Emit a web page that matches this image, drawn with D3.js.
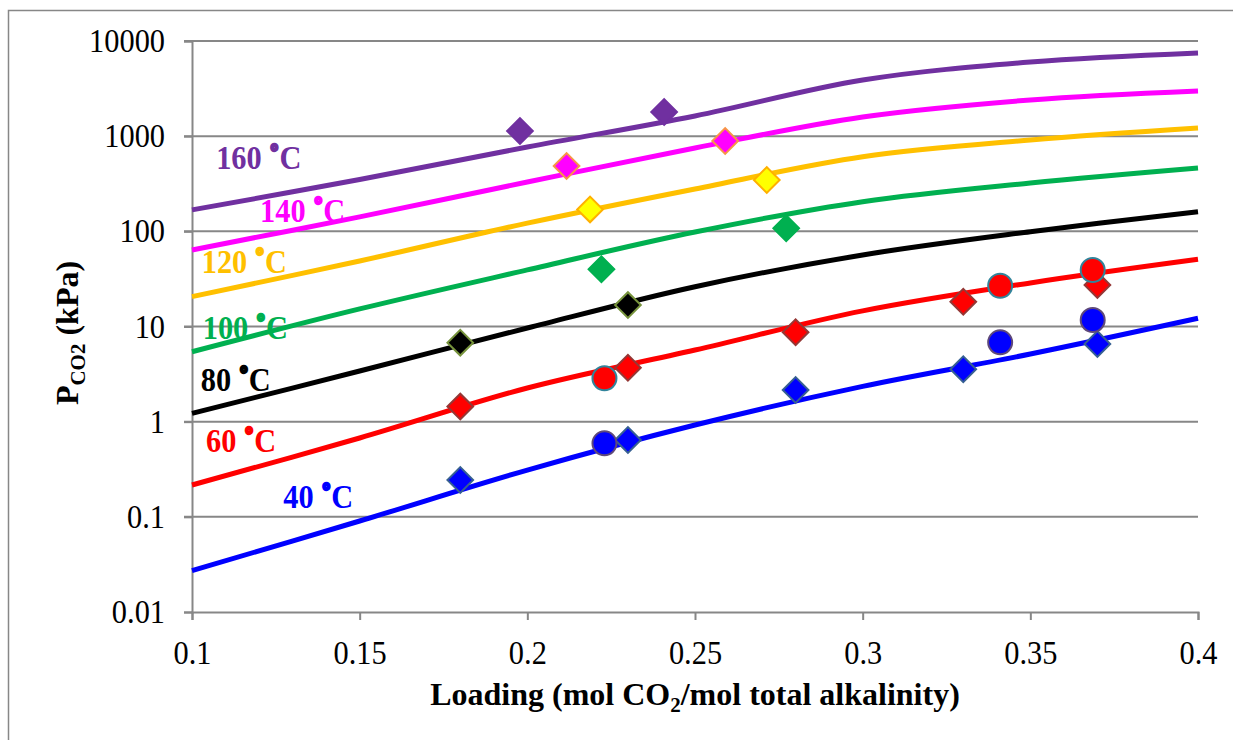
<!DOCTYPE html>
<html>
<head>
<meta charset="utf-8">
<script src="https://cdn.jsdelivr.net/npm/d3@7"></script>
<style>
  html, body { margin: 0; padding: 0; background: #fff; }
  svg { display: block; font-family: "Liberation Serif", "Times New Roman", serif; }
  svg text { font-family: "Liberation Serif", "Times New Roman", serif; }
</style>
</head>
<body>
<svg id="chart" width="1233" height="740"></svg>
<script>
// ---------- data ----------
const loadingGrid = [0.10, 0.15, 0.20, 0.25, 0.30, 0.35, 0.40];
const model40  = [0.0272, 0.0904, 0.31, 0.923, 2.35, 5.14, 12.2];
const model60  = [0.216, 0.674, 2.26, 5.66, 14.6, 28.7, 50.8];
const model80  = [1.22, 3.41, 9.64, 26.2, 56.4, 99, 161];
const model100 = [5.43, 15.3, 39.3, 98.4, 205, 322, 463];
const model120 = [20.6, 48.8, 122, 279, 608, 912, 1218];
const model140 = [63.7, 142, 330, 751, 1590, 2400, 2985];
const model160 = [168, 350, 769, 1630, 3890, 6010, 7480];

const temperatures = ["40 ˚C", "60 ˚C", "80 ˚C", "100 ˚C", "120 ˚C", "140 ˚C", "160 ˚C"];

const exp40DiamondX = [0.18, 0.23, 0.28, 0.33, 0.37];
const exp40DiamondY = [0.244, 0.641, 2.15, 3.55, 6.55];
const exp40CircleX  = [0.223, 0.341, 0.3686];
const exp40CircleY  = [0.592, 6.82, 11.7];
const exp60DiamondX = [0.18, 0.23, 0.28, 0.33, 0.37];
const exp60DiamondY = [1.44, 3.69, 8.69, 18.2, 27.3];
const exp60CircleX  = [0.223, 0.341, 0.3686];
const exp60CircleY  = [2.86, 26.8, 39.2];
const exp80X  = [0.18, 0.23];
const exp80Y  = [6.76, 16.8];
const exp100X = [0.2221, 0.2772];
const exp100Y = [39.9, 108];
const exp120X = [0.2187, 0.2714];
const exp120Y = [170, 346];
const exp140X = [0.2117, 0.259];
const exp140Y = [486, 890];
const exp160X = [0.1978, 0.2408];
const exp160Y = [1133, 1795];

const xTicks = [0.1, 0.15, 0.2, 0.25, 0.3, 0.35, 0.4];
const xTickLabels = ["0.1", "0.15", "0.2", "0.25", "0.3", "0.35", "0.4"];
const yTicks = [0.01, 0.1, 1, 10, 100, 1000, 10000];
const yTickLabels = ["0.01", "0.1", "1", "10", "100", "1000", "10000"];

// ---------- layout / style ----------
const svg = d3.select("#chart");
const plotL = 192, plotR = 1198, plotT = 41, plotB = 612;
const x = d3.scaleLinear().domain([0.1, 0.4]).range([plotL, plotR]);
const y = d3.scaleLog().domain([0.01, 10000]).range([plotB, plotT]);
const gridColor = "#878787";
const serif = "'Liberation Serif', 'Times New Roman', serif";

const lineColors = ["#0000FF", "#FF0000", "#000000", "#00B050", "#FFC000", "#FF00FF", "#7030A0"];
// label anchors (data units)
const labelAnchorX = [0.1272, 0.1042, 0.1026, 0.1032, 0.1029, 0.1203, 0.1072];
const labelAnchorY = [0.123, 0.476, 2.12, 7.34, 36.7, 126, 449];

// outer frame
svg.append("rect").attr("x", 8.5).attr("y", 10.5).attr("width", 1240).attr("height", 740)
  .attr("fill", "none").attr("stroke", gridColor).attr("stroke-width", 1.5);

// gridlines
svg.append("g").selectAll("line").data(yTicks.slice(1)).join("line")
  .attr("x1", plotL - 8).attr("x2", plotR)
  .attr("y1", d => y(d)).attr("y2", d => y(d))
  .attr("stroke", gridColor).attr("stroke-width", 2);

// axes
const yAxis = svg.append("g").attr("transform", `translate(${plotL},0)`)
  .call(d3.axisLeft(y).tickValues(yTicks).tickFormat((d, i) => yTickLabels[i]).tickSize(8).tickPadding(19));
const xAxis = svg.append("g").attr("transform", `translate(0,${plotB})`)
  .call(d3.axisBottom(x).tickValues(xTicks).tickFormat((d, i) => xTickLabels[i]).tickSize(8).tickPadding(21));
[yAxis, xAxis].forEach(g => {
  g.attr("font-family", serif).attr("font-size", 33);
  g.select(".domain").attr("stroke", gridColor).attr("stroke-width", 2);
  g.selectAll(".tick line").attr("stroke", gridColor).attr("stroke-width", 2);
  g.selectAll(".tick text").attr("fill", "#000").style("font-family", serif).style("font-size", "33px");
});

// model curves
const models = [model40, model60, model80, model100, model120, model140, model160];
const line = d3.line().x(d => x(d[0])).y(d => y(d[1])).curve(d3.curveCatmullRom.alpha(0.5));
svg.append("g").selectAll("path").data(models).join("path")
  .attr("d", m => line(loadingGrid.map((l, i) => [l, m[i]])))
  .attr("fill", "none")
  .attr("stroke", (m, i) => lineColors[i])
  .attr("stroke-width", 5);

// experimental points
function diamonds(xs, ys, fill, stroke) {
  svg.append("g").selectAll("path").data(xs).join("path")
    .attr("d", d3.symbol(d3.symbolSquare, 330)())
    .attr("transform", (d, i) => `translate(${x(d)},${y(ys[i])}) rotate(45)`)
    .attr("fill", fill).attr("stroke", stroke).attr("stroke-width", 2);
}
function circles(xs, ys, fill, stroke) {
  svg.append("g").selectAll("circle").data(xs).join("circle")
    .attr("cx", d => x(d)).attr("cy", (d, i) => y(ys[i])).attr("r", 12)
    .attr("fill", fill).attr("stroke", stroke).attr("stroke-width", 2);
}
diamonds(exp160X, exp160Y, "#7030A0", "#7030A0");
diamonds(exp140X, exp140Y, "#FF00FF", "#F79646");
diamonds(exp120X, exp120Y, "#FFFF00", "#FFB000");
diamonds(exp100X, exp100Y, "#00B050", "#00B050");
diamonds(exp80X, exp80Y, "#000000", "#77933C");
diamonds(exp60DiamondX, exp60DiamondY, "#FF0000", "#953735");
diamonds(exp40DiamondX, exp40DiamondY, "#0000FF", "#376092");
circles(exp60CircleX, exp60CircleY, "#FF0000", "#31849B");
circles(exp40CircleX, exp40CircleY, "#0000FF", "#5F497A");

// temperature labels (degree ring drawn heavier, as in the reference)
const labels = svg.append("g").selectAll("text").data(temperatures).join("text")
  .attr("class", "clabel")
  .attr("x", (d, i) => x(labelAnchorX[i]))
  .attr("y", (d, i) => y(labelAnchorY[i]))
  .attr("fill", (d, i) => lineColors[i])
  .attr("font-size", 33).attr("font-weight", "bold");
labels.each(function(d, i) {
  const parts = d.split("˚");
  const t = d3.select(this);
  t.append("tspan").text(parts[0]);
  t.append("tspan").text("˚").attr("stroke", lineColors[i]).attr("stroke-width", 2.5);
  t.append("tspan").text(parts[1]);
});

// axis titles
const xt = svg.append("text").attr("x", (plotL + plotR) / 2).attr("y", 705)
  .attr("text-anchor", "middle").attr("font-size", 32).attr("font-weight", "bold");
xt.append("tspan").text("Loading (mol CO");
xt.append("tspan").attr("font-size", 21).attr("dy", 7).text("2");
xt.append("tspan").attr("dy", -7).text("/mol total alkalinity)");

const yt = svg.append("text").attr("transform", "translate(78,333) rotate(-90)")
  .attr("text-anchor", "middle").attr("font-size", 32).attr("font-weight", "bold");
yt.append("tspan").text("P");
yt.append("tspan").attr("font-size", 21).attr("dy", 7).text("CO2");
yt.append("tspan").attr("dy", -7).text(" (kPa)");

// slight horizontal condensing of serif text, as in the reference
svg.selectAll(".tick text, .clabel").each(function() {
  const len = this.getComputedTextLength();
  d3.select(this).attr("textLength", len * 0.92).attr("lengthAdjust", "spacingAndGlyphs");
});
</script>
</body>
</html>
